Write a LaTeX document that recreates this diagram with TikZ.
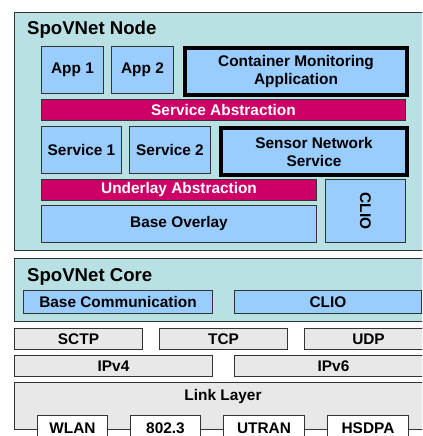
\documentclass[tikz,border=0pt]{standalone}
\usepackage{fontspec}
\setmainfont{Liberation Sans}
\definecolor{nodebg}{HTML}{B9E1E3}
\definecolor{boxblue}{HTML}{99CCFF}
\definecolor{abstr}{HTML}{CC0066}
\definecolor{greybox}{HTML}{E8E8E8}
\definecolor{bordercol}{HTML}{333333}
\newcommand{\boxfont}{\fontsize{15.4bp}{18bp}\selectfont\bfseries}
\newcommand{\titlefont}{\fontsize{18.6bp}{21bp}\selectfont\bfseries}
\tikzset{
  frame/.style={draw=bordercol, fill=nodebg, line width=1.2bp, inner sep=0pt, anchor=north west},
  linkframe/.style={draw=bordercol, fill=greybox, line width=1.2bp, inner sep=0pt, anchor=north west},
  base/.style={inner sep=0pt, anchor=north west, font=\boxfont, align=center, line width=1bp},
  bluebox/.style={base, draw=bordercol, fill=boxblue},
  thickbox/.style={base, draw=black, fill=boxblue, line width=4bp},
  abstrbar/.style={base, draw=bordercol, fill=abstr, text=white},
  greyitem/.style={base, draw=bordercol, fill=greybox},
  whiteitem/.style={base, draw=bordercol, fill=white},
  title/.style={inner sep=0pt, anchor=west, font=\titlefont},
  plainlabel/.style={inner sep=0pt, font=\boxfont}
}
\begin{document}
\begin{tikzpicture}[x=1bp, y=-1bp]
\useasboundingbox (0,0) rectangle (422,436);
\clip (0,0) rectangle (422,436);
% SpoVNet Node
\node[frame, minimum width=418bp, minimum height=238bp] (nodeframe) at (14,12) {};
\node[title] (nodetitle) at (27,30) {SpoVNet Node};
\node[bluebox, minimum width=62bp, minimum height=47bp] (app1) at (41,46) {App 1};
\node[bluebox, minimum width=62bp, minimum height=47bp] (app2) at (111,46) {App 2};
\node[thickbox, minimum width=222bp, minimum height=47bp] (cma) at (183,46) {Container Monitoring\\Application};
\node[abstrbar, minimum width=364bp, minimum height=21bp] (servabs) at (41,99) {Service Abstraction};
\node[bluebox, minimum width=80bp, minimum height=47bp] (serv1) at (41,126) {Service 1};
\node[bluebox, minimum width=81bp, minimum height=47bp] (serv2) at (129,126) {Service 2};
\node[thickbox, minimum width=186bp, minimum height=47bp] (sns) at (219,126) {Sensor Network\\Service};
\node[abstrbar, minimum width=275bp, minimum height=21bp] (undabs) at (41,179) {Underlay Abstraction};
\node[bluebox, minimum width=275bp, minimum height=37bp] (baseov) at (41,205) {Base Overlay};
\node[bluebox, minimum width=80bp, minimum height=63bp] (clioa) at (325,179) {};
\node[plainlabel, rotate=-90] (clioatext) at (clioa.center) {CLIO};
% SpoVNet Core
\node[frame, minimum width=418bp, minimum height=63bp] (coreframe) at (14,258) {};
\node[title] (coretitle) at (27,277) {SpoVNet Core};
\node[bluebox, minimum width=189bp, minimum height=23bp] (basecomm) at (23,290) {Base Communication};
\node[bluebox, minimum width=187bp, minimum height=23bp] (cliob) at (234,290) {CLIO};
% Transport / network
\node[greyitem, minimum width=128bp, minimum height=21bp] (sctp) at (14,328) {SCTP};
\node[greyitem, minimum width=128bp, minimum height=21bp] (tcp) at (159,328) {TCP};
\node[greyitem, minimum width=128bp, minimum height=21bp] (udp) at (304,328) {UDP};
\node[greyitem, minimum width=198bp, minimum height=21bp] (ipv4) at (14,355) {IPv4};
\node[greyitem, minimum width=198bp, minimum height=21bp] (ipv6) at (234,355) {IPv6};
% Link layer
\node[linkframe, minimum width=418bp, minimum height=47bp] (linkframe) at (14,382) {};
\node[plainlabel] (linktitle) at (223,397) {Link Layer};
\node[whiteitem, minimum width=70bp, minimum height=26bp] (wlan) at (37,415) {WLAN};
\node[whiteitem, minimum width=70bp, minimum height=26bp] (eth) at (130,415) {802.3};
\node[whiteitem, minimum width=81bp, minimum height=26bp] (utran) at (223,415) {UTRAN};
\node[whiteitem, minimum width=81bp, minimum height=26bp] (hsdpa) at (327,415) {HSDPA};
\end{tikzpicture}
\end{document}
